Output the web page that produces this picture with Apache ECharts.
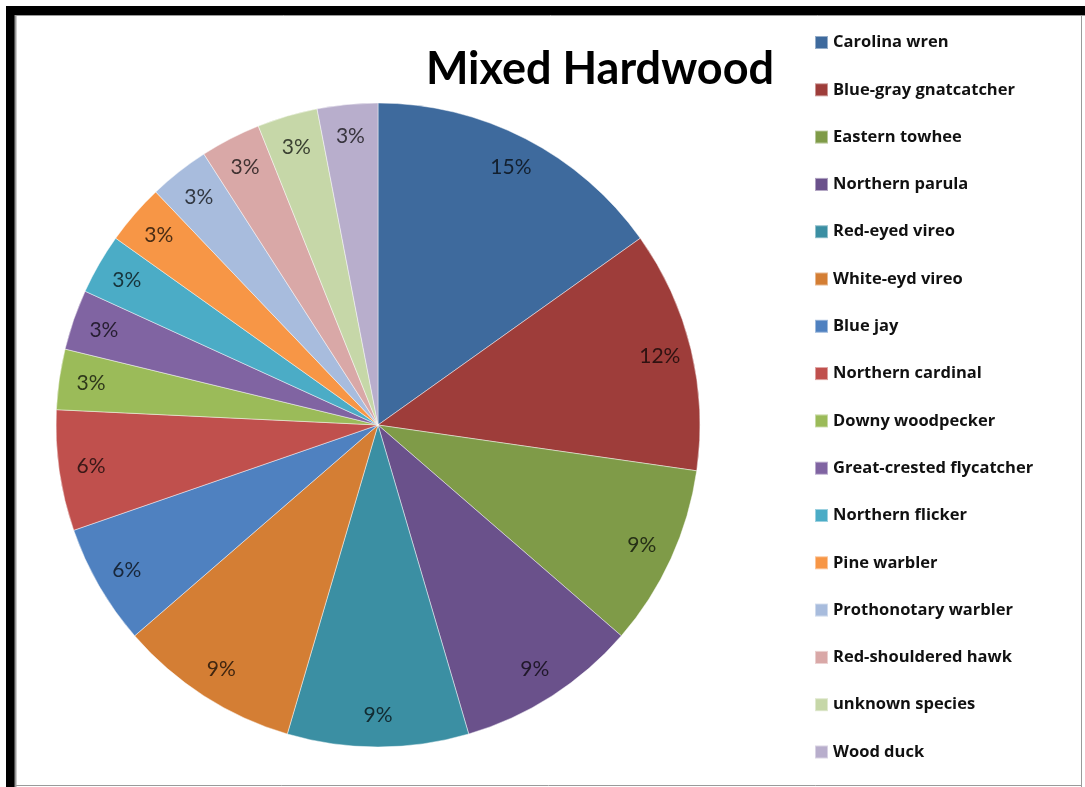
<!DOCTYPE html>
<html>
<head>
<meta charset="utf-8">
<title>Mixed Hardwood</title>
<script src="https://cdn.jsdelivr.net/npm/echarts@6/dist/echarts.min.js"></script>
<style>
  html, body { margin: 0; padding: 0; background: #fff; }
  #chart { width: 1085px; height: 787px; }
</style>
</head>
<body>
<div id="chart"></div>
<script>
// Bird species observed in the mixed hardwood stand (detection counts)
const species = [
  'Carolina wren', 'Blue-gray gnatcatcher', 'Eastern towhee', 'Northern parula',
  'Red-eyed vireo', 'White-eyd vireo', 'Blue jay', 'Northern cardinal',
  'Downy woodpecker', 'Great-crested flycatcher', 'Northern flicker', 'Pine warbler',
  'Prothonotary warbler', 'Red-shouldered hawk', 'unknown species', 'Wood duck'
];
const counts = [5, 4, 3, 3, 3, 3, 2, 2, 1, 1, 1, 1, 1, 1, 1, 1];

const sliceColors = [
  '#3e6a9d', '#9e3d3a', '#7f9b48', '#6a518b', '#3b8fa3', '#d47e34',
  '#4f81c0', '#c0504d', '#9bbb59', '#8064a2', '#4bacc6', '#f79646',
  '#a8bcdd', '#d9a8a7', '#c6d7a8', '#b8aecc'
];

// darker tone of a slice colour for its percentage text
function shade(hex, f) {
  const n = parseInt(hex.slice(1), 16);
  const r = Math.round(((n >> 16) & 255) * f);
  const g = Math.round(((n >> 8) & 255) * f);
  const b = Math.round((n & 255) * f);
  return 'rgb(' + r + ',' + g + ',' + b + ')';
}

const total = counts.reduce((a, b) => a + b, 0);
const pieData = species.map((name, i) => ({ name, value: counts[i] }));
const labelData = species.map((name, i) => ({
  name,
  value: counts[i],
  label: { color: shade(sliceColors[i], 0.3) }
}));

const FONT = 'Lato, "Open Sans", sans-serif';
const cx = 378, cy = 425, R = 322;

const chart = echarts.init(document.getElementById('chart'), null, { renderer: 'canvas' });
chart.setOption({
  animation: false,
  backgroundColor: '#fff',
  color: sliceColors,
  title: {
    text: 'Mixed Hardwood',
    left: 595,
    top: 42,
    textAlign: 'center',
    textStyle: { fontFamily: FONT, fontWeight: 'bold', fontSize: 45, color: '#000' }
  },
  legend: {
    orient: 'vertical',
    left: 809,
    top: 29,
    height: 760,
    icon: 'rect',
    itemWidth: 13,
    itemHeight: 13,
    itemGap: 30.3,
    selectedMode: false,
    textStyle: { fontFamily: '"Open Sans", sans-serif', fontWeight: 'bold', fontSize: 16.5, lineHeight: 16, color: '#111' },
    data: species
  },
  graphic: [
    { type: 'rect', shape: { x: 6, y: 6, width: 1079, height: 9 }, style: { fill: '#000' } },
    { type: 'rect', shape: { x: 6, y: 6, width: 9, height: 781 }, style: { fill: '#000' } },
    { type: 'line', shape: { x1: 16, y1: 15.5, x2: 1085, y2: 15.5 }, style: { stroke: '#9a9a9a', lineWidth: 1 } },
    { type: 'line', shape: { x1: 15.5, y1: 15, x2: 15.5, y2: 787 }, style: { stroke: '#9a9a9a', lineWidth: 2 } },
    { type: 'line', shape: { x1: 1081.5, y1: 15, x2: 1081.5, y2: 787 }, style: { stroke: '#9a9a9a', lineWidth: 1 } },
    { type: 'line', shape: { x1: 15, y1: 785.5, x2: 1082, y2: 785.5 }, style: { stroke: '#9a9a9a', lineWidth: 1 } }
  ],
  series: [
    {
      type: 'pie',
      center: [cx, cy],
      radius: [0, R],
      startAngle: 90,
      clockwise: true,
      avoidLabelOverlap: false,
      silent: true,
      label: { show: false },
      labelLine: { show: false },
      itemStyle: { borderColor: 'rgba(255,255,255,0.45)', borderWidth: 1 },
      data: pieData
    },
    {
      // transparent ring that carries the percentage labels near the rim
      type: 'pie',
      center: [cx, cy],
      radius: [252, 322],
      startAngle: 90,
      clockwise: true,
      avoidLabelOverlap: false,
      silent: true,
      itemStyle: { color: 'rgba(0,0,0,0)', borderWidth: 0 },
      label: {
        show: true,
        position: 'inside',
        fontFamily: FONT,
        fontSize: 21,
        formatter: p => Math.round(p.value / total * 100) + '%'
      },
      labelLine: { show: false },
      data: labelData
    }
  ]
});
</script>
</body>
</html>
